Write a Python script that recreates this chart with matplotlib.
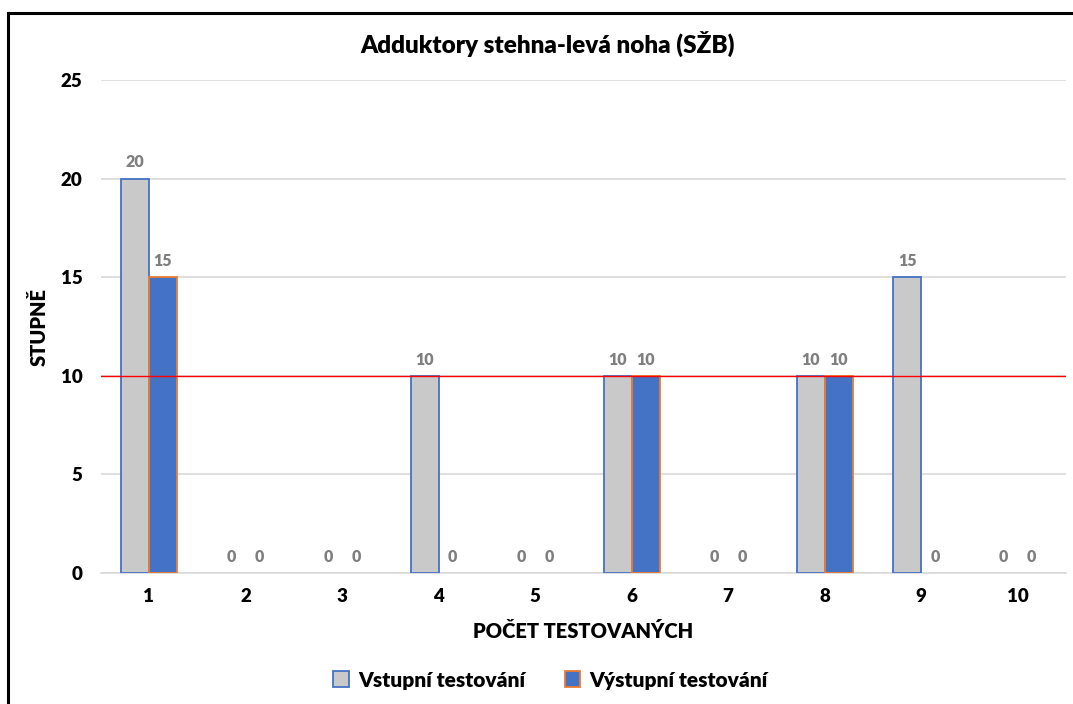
import matplotlib
matplotlib.use("Agg")
import matplotlib.pyplot as plt
from matplotlib.lines import Line2D
from matplotlib.patches import Patch
import numpy as np

plt.rcParams['font.family'] = ['Lato', 'DejaVu Sans']

categories = ['1', '2', '3', '4', '5', '6', '7', '8', '9', '10']
vstupni = [20, 0, 0, 10, 0, 10, 0, 10, 15, 0]
vystupni = [15, 0, 0, 0, 0, 10, 0, 10, 0, 0]
reference_level = 10
title = 'Adduktory stehna-levá noha (SŽB)'
ylabel = 'STUPNĚ'
xlabel = 'POČET TESTOVANÝCH'
series_names = ['Vstupní testování', 'Výstupní testování']

fig = plt.figure(figsize=(10.73, 7.04), dpi=100)
ax = fig.add_axes([0.0938, 0.186, 0.8997, 0.700])

x = np.arange(len(categories))
w = 0.29
b1 = ax.bar(x - w/2, vstupni, w, color='#C9C9C9', edgecolor='#4472C4',
            linewidth=[1.3 if v > 0 else 0 for v in vstupni], zorder=3)
b2 = ax.bar(x + w/2, vystupni, w, color='#4472C4', edgecolor='#ED7D31',
            linewidth=[1.3 if v > 0 else 0 for v in vystupni], zorder=3)

for bars, vals in ((b1, vstupni), (b2, vystupni)):
    for rect, v in zip(bars, vals):
        ax.annotate(str(v), (rect.get_x() + rect.get_width()/2, v),
                    xytext=(0, 6), textcoords='offset points',
                    ha='center', va='bottom', fontsize=11.5, fontweight='heavy',
                    color='#7F7F7F', zorder=4)

ax.axhline(reference_level, color='#FF0000', linewidth=1, zorder=4)

ax.set_xlim(-0.5, len(categories) - 0.5)
ax.set_ylim(0, 25)
ax.set_yticks([0, 5, 10, 15, 20, 25])
ax.set_xticks(x)
ax.set_xticklabels(categories)
ax.grid(axis='y', color='#D9D9D9', linewidth=1.2, zorder=0)
ax.set_axisbelow(True)
for s in ['top', 'right', 'left']:
    ax.spines[s].set_visible(False)
ax.spines['bottom'].set_color('#D9D9D9')
ax.spines['bottom'].set_linewidth(1.2)
ax.tick_params(length=0, labelsize=13.5, pad=11)
for lbl in ax.get_xticklabels() + ax.get_yticklabels():
    lbl.set_fontweight('heavy')
ax.tick_params(axis='y', pad=13)

ax.set_xlabel(xlabel, fontsize=14.5, fontweight='heavy', labelpad=12)
ax.set_ylabel(ylabel, fontsize=14.5, fontweight='heavy', labelpad=9)

fig.text(0.51, 0.938, title, ha='center', va='center', fontsize=17.5, fontweight='heavy')

handles = [Patch(facecolor='#C9C9C9', edgecolor='#4472C4', linewidth=1.3),
           Patch(facecolor='#4472C4', edgecolor='#ED7D31', linewidth=1.3)]
fig.legend(handles, series_names, loc='center', bbox_to_anchor=(0.513, 0.034),
           ncol=2, frameon=False, handlelength=0.75, handleheight=0.8,
           handletextpad=0.45, columnspacing=1.9, prop={'weight': 'heavy', 'size': 15})

# outer frame (left and top edges visible)
fig.add_artist(Line2D([7.5/1073, 7.5/1073], [0, 1 - 12.5/704], color='black', linewidth=2.2, transform=fig.transFigure))
fig.add_artist(Line2D([7.5/1073, 1], [1 - 12.5/704, 1 - 12.5/704], color='black', linewidth=2.2, transform=fig.transFigure))

fig.savefig('out.png', dpi=100)
